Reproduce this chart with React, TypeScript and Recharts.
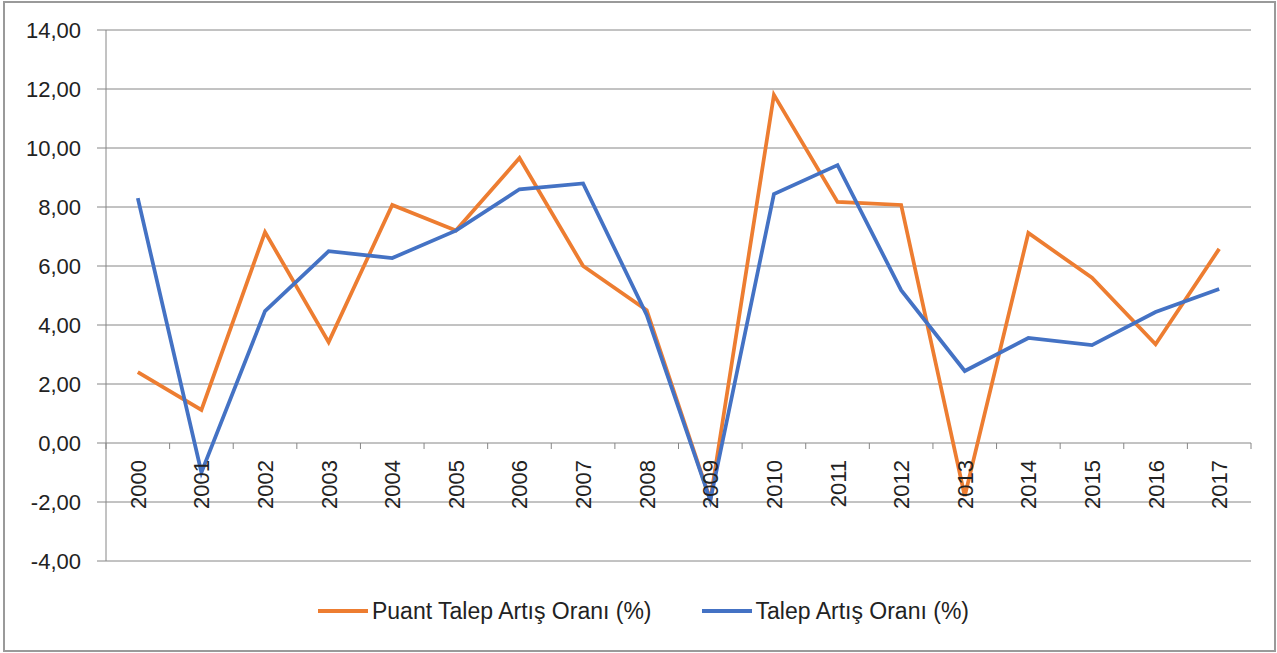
import React from "react";
import { LineChart, Line, XAxis, YAxis, CartesianGrid, Legend } from "recharts";

const years = ["2000","2001","2002","2003","2004","2005","2006","2007","2008","2009","2010","2011","2012","2013","2014","2015","2016","2017"];
const puantTalep = [2.4, 1.12, 7.15, 3.42, 8.07, 7.2, 9.66, 6.0, 4.5, -1.93, 11.8, 8.17, 8.07, -1.8, 7.12, 5.6, 3.35, 6.58];
const talep = [8.3, -1.0, 4.47, 6.5, 6.27, 7.2, 8.6, 8.8, 4.34, -1.95, 8.44, 9.42, 5.18, 2.44, 3.56, 3.32, 4.44, 5.22];
const yTicks = [-4, -2, 0, 2, 4, 6, 8, 10, 12, 14];
const seriesNames = ["Puant Talep Artış Oranı (%)", "Talep Artış Oranı (%)"];
const seriesColors = ["#ED7D31", "#4472C4"];

const data = years.map((y, i) => ({ year: y, puant: puantTalep[i], talep: talep[i] }));

const W = 1277;
const H = 653;
const MARGIN = { top: 30, right: 26, left: 0, bottom: 22 };
const Y_AXIS_W = 106;
const X_AXIS_H = 30;
const LEGEND_H = 40;
const PLOT_TOP = MARGIN.top;
const PLOT_H = H - MARGIN.top - MARGIN.bottom - X_AXIS_H - LEGEND_H;
const PLOT_W = W - MARGIN.left - MARGIN.right - Y_AXIS_W;
const Y_MIN = yTicks[0];
const Y_MAX = yTicks[yTicks.length - 1];
const ZERO_Y = PLOT_TOP + (PLOT_H * (Y_MAX - 0)) / (Y_MAX - Y_MIN);
const BAND = PLOT_W / years.length;
const FONT = "'Liberation Sans', Arial, sans-serif";
const AXIS_COLOR = "#868686";

const fmt = (v: number) => v.toFixed(2).replace(".", ",");

const XTick = (props: any) => {
  const { x, payload, index } = props;
  const last = index === years.length - 1;
  return (
    <g>
      <line x1={x - BAND / 2} x2={x - BAND / 2} y1={ZERO_Y} y2={ZERO_Y + 6} stroke={AXIS_COLOR} strokeWidth={1} />
      {last && (
        <line x1={x + BAND / 2} x2={x + BAND / 2} y1={ZERO_Y} y2={ZERO_Y + 6} stroke={AXIS_COLOR} strokeWidth={1} />
      )}
      <text
        x={0}
        y={0}
        transform={`translate(${x + 8}, ${ZERO_Y + 17}) rotate(-90)`}
        textAnchor="end"
        fontSize={22}
        fontFamily={FONT}
        fill="#222"
      >
        {payload.value}
      </text>
    </g>
  );
};

const LegendContent = () => (
  <div
    style={{
      height: LEGEND_H,
      display: "flex",
      alignItems: "center",
      justifyContent: "center",
      fontFamily: FONT,
      fontSize: 23,
      color: "#222",
      paddingLeft: 36,
    }}
  >
    {seriesNames.map((n, i) => (
      <div key={n} style={{ display: "flex", alignItems: "center", marginRight: i === 0 ? 50 : 0 }}>
        <div style={{ width: 50, height: 4, background: seriesColors[i], marginRight: 4 }} />
        <span>{n}</span>
      </div>
    ))}
  </div>
);

export default function App() {
  return (
    <div style={{ position: "absolute", left: 0, top: 0, width: W, height: H, background: "#fff" }}>
      <div
        style={{
          position: "absolute",
          left: 3,
          top: 1,
          width: 1273,
          height: 651,
          boxSizing: "border-box",
          border: "2px solid #9a9a9a",
        }}
      />
      <div style={{ position: "absolute", left: 0, top: 0 }}>
        <LineChart width={W} height={H} data={data} margin={MARGIN}>
          <CartesianGrid horizontal vertical={false} stroke={AXIS_COLOR} strokeWidth={1} />
          <XAxis
            dataKey="year"
            height={X_AXIS_H}
            axisLine={false}
            tickLine={false}
            interval={0}
            padding={{ left: BAND / 2, right: BAND / 2 }}
            tick={<XTick />}
          />
          <YAxis
            width={Y_AXIS_W}
            domain={[Y_MIN, Y_MAX]}
            ticks={yTicks}
            interval={0}
            tickFormatter={fmt}
            axisLine={{ stroke: AXIS_COLOR }}
            tickLine={{ stroke: AXIS_COLOR }}
            tickSize={9}
            tickMargin={16}
            tick={{ fontSize: 22, fontFamily: FONT, fill: "#222" }}
          />
          <Legend verticalAlign="bottom" height={LEGEND_H} content={<LegendContent />} />
          <Line
            type="linear"
            dataKey="puant"
            name={seriesNames[0]}
            stroke={seriesColors[0]}
            strokeWidth={3.75}
            dot={false}
            isAnimationActive={false}
          />
          <Line
            type="linear"
            dataKey="talep"
            name={seriesNames[1]}
            stroke={seriesColors[1]}
            strokeWidth={3.75}
            dot={false}
            isAnimationActive={false}
          />
        </LineChart>
      </div>
    </div>
  );
}
